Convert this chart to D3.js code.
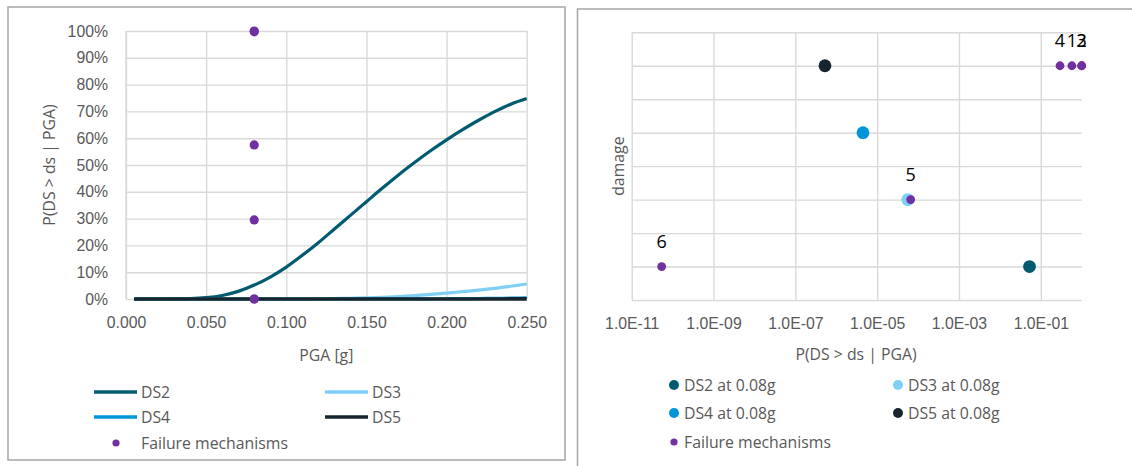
<!DOCTYPE html>
<html>
<head>
<meta charset="utf-8">
<script src="https://cdn.jsdelivr.net/npm/d3@7"></script>
<style>
  html, body { margin: 0; padding: 0; background: #fff; }
  svg { display: block; font-family: "Open Sans", "Noto Sans", sans-serif; }
  .tick text { fill: #595959; font-size: 15.8px; }
</style>
</head>
<body>
<svg id="chart" width="1132" height="466"></svg>
<script>
// Fragility curves: P(DS > ds | PGA) against PGA [g]
const pga = [0.005, 0.01, 0.02, 0.03, 0.04, 0.05, 0.06, 0.07, 0.08, 0.09, 0.10, 0.11, 0.12,
             0.13, 0.14, 0.15, 0.16, 0.17, 0.18, 0.19, 0.20, 0.21, 0.22, 0.23, 0.24, 0.25];
const ds2 = [0, 0, 0, 0.0001, 0.0011, 0.0048, 0.0132, 0.0284, 0.052, 0.082, 0.119, 0.163, 0.210,
             0.261, 0.312, 0.363, 0.414, 0.463, 0.509, 0.553, 0.594, 0.632, 0.667, 0.699, 0.727, 0.748];
const ds3 = [0, 0, 0, 0, 0, 0, 0, 0, 0.000056, 0.0001, 0.0003, 0.0006, 0.001,
             0.0017, 0.0026, 0.004, 0.006, 0.009, 0.0125, 0.017, 0.022, 0.0275, 0.033, 0.0395, 0.0475, 0.056];
const ds4 = [0, 0, 0, 0, 0, 0, 0, 0, 0.0000045, 0.00001, 0.00002, 0.00004, 0.00007,
             0.0001, 0.00015, 0.0002, 0.0003, 0.0004, 0.0006, 0.0008, 0.001, 0.0013, 0.0018, 0.0024, 0.0032, 0.0042];
const ds5 = [0, 0, 0, 0, 0, 0, 0, 0, 0.00000053, 0.000001, 0.000002, 0.000004, 0.000007,
             0.00001, 0.000015, 0.00002, 0.00003, 0.00004, 0.00006, 0.00008, 0.0001, 0.00013, 0.00018, 0.00024, 0.00032, 0.0004];

const dsNames  = ["DS2", "DS3", "DS4", "DS5"];
const dsColors = ["#005b70", "#7fcff5", "#0096d8", "#17262e"];

// Damage state probabilities at PGA = 0.08 g and their damage level
const dsAtNames  = ["DS2 at 0.08g", "DS3 at 0.08g", "DS4 at 0.08g", "DS5 at 0.08g"];
const dsAtProb   = [0.053, 0.000056, 0.0000045, 0.00000053];
const dsAtLevel  = [1, 3, 5, 7];

// Failure mechanisms at PGA = 0.08 g
const fmPga   = 0.08;
const fmIds   = [1, 2, 3, 4, 5, 6];
const fmProb  = [0.575, 1.0, 0.997, 0.295, 0.000066, 0.000000000054];
const fmLevel = [7, 7, 7, 7, 3, 1];
const fmColor = "#7030a0";

// Axis ticks
const leftXTicks  = [0, 0.05, 0.10, 0.15, 0.20, 0.25];
const leftYTicks  = [0, 0.1, 0.2, 0.3, 0.4, 0.5, 0.6, 0.7, 0.8, 0.9, 1.0];
const rightXTicks = [1e-11, 1e-9, 1e-7, 1e-5, 1e-3, 1e-1];
const rightYTicks = [0, 1, 2, 3, 4, 5, 6, 7, 8];

const svg = d3.select("#chart");
const grid = "#d9d9d9", textCol = "#595959", frame = "#a6a6a6";
const fs = 15.8;

// Panel frames
svg.append("rect").attr("x", 8).attr("y", 7).attr("width", 557).attr("height", 453)
  .attr("fill", "none").attr("stroke", frame).attr("stroke-width", 1.5);
svg.append("rect").attr("x", 577.5).attr("y", 9).attr("width", 600).attr("height", 500)
  .attr("fill", "none").attr("stroke", frame).attr("stroke-width", 1.5);

// ---------- Left: fragility curves ----------
const x1 = d3.scaleLinear().domain([0, 0.25]).range([126, 526.7]);
const y1 = d3.scaleLinear().domain([0, 1]).range([299, 31]);

const L = svg.append("g");
L.append("g").attr("transform", `translate(0,${y1(0)})`)
  .call(d3.axisBottom(x1).tickValues(leftXTicks).tickSize(-(y1(0) - y1(1))).tickFormat(d3.format(".3f")).tickPadding(18))
  .call(g => g.select(".domain").remove())
  .call(g => g.selectAll(".tick line").attr("stroke", grid).attr("stroke-width", 1.4));
L.append("g").attr("transform", `translate(${x1(0)},0)`)
  .call(d3.axisLeft(y1).tickValues(leftYTicks).tickSize(-(x1(0.25) - x1(0))).tickFormat(d3.format(".0%")).tickPadding(18))
  .call(g => g.select(".domain").remove())
  .call(g => g.selectAll(".tick line").attr("stroke", grid).attr("stroke-width", 1.4));
// value axis line on the left edge
L.append("line").attr("x1", x1(0)).attr("x2", x1(0)).attr("y1", y1(1)).attr("y2", y1(0))
  .attr("stroke", grid).attr("stroke-width", 1.4);

const curveData = [ds2, ds3, ds4, ds5];
const line = d3.line().x(d => x1(d[0])).y(d => y1(d[1])).curve(d3.curveMonotoneX);
curveData.forEach((vals, i) => {
  L.append("path").datum(pga.map((p, j) => [p, vals[j]]))
    .attr("d", line).attr("fill", "none").attr("stroke", dsColors[i])
    .attr("stroke-width", i === 3 ? 3.6 : 3.2).attr("stroke-linecap", "butt");
});
L.selectAll("circle.fm").data(fmProb).join("circle").attr("class", "fm")
  .attr("cx", x1(fmPga)).attr("cy", d => y1(d)).attr("r", 4.6).attr("fill", fmColor);

L.append("text").attr("transform", `translate(55,${(y1(0) + y1(1)) / 2}) rotate(-90)`)
  .attr("text-anchor", "middle").attr("fill", textCol).attr("font-size", fs).text("P(DS > ds | PGA)");
L.append("text").attr("x", (x1(0) + x1(0.25)) / 2).attr("y", 361)
  .attr("text-anchor", "middle").attr("fill", textCol).attr("font-size", fs).text("PGA [g]");

// Left legend
const legL = [[94, 392], [325, 392], [94, 417], [325, 417]];
dsNames.forEach((n, i) => {
  const [lx, ly] = legL[i];
  L.append("line").attr("x1", lx).attr("x2", lx + 43).attr("y1", ly).attr("y2", ly)
    .attr("stroke", dsColors[i]).attr("stroke-width", 3.4);
  L.append("text").attr("x", lx + 47).attr("y", ly).attr("dy", "0.35em")
    .attr("fill", textCol).attr("font-size", fs).text(n);
});
L.append("circle").attr("cx", 116).attr("cy", 443).attr("r", 3.6).attr("fill", fmColor);
L.append("text").attr("x", 141).attr("y", 443).attr("dy", "0.35em")
  .attr("fill", textCol).attr("font-size", fs).text("Failure mechanisms");

// ---------- Right: probabilities at 0.08 g ----------
const x2 = d3.scaleLog().domain([1e-11, 1]).range([631.7, 1081.7]);
const y2 = d3.scaleLinear().domain([0, 8]).range([300, 32.3]);

const R = svg.append("g");
const expFmt = d => {
  const e = Math.round(Math.log10(d));
  return "1.0E" + (e < 0 ? "-" : "+") + String(Math.abs(e)).padStart(2, "0");
};
R.append("g").attr("transform", `translate(0,${y2(0)})`)
  .call(d3.axisBottom(x2).tickValues(rightXTicks).tickSize(-(y2(0) - y2(8))).tickFormat(expFmt).tickPadding(18))
  .call(g => g.select(".domain").remove())
  .call(g => g.selectAll(".tick line").attr("stroke", grid).attr("stroke-width", 1.4));
R.append("g").attr("transform", `translate(${x2(1e-11)},0)`)
  .call(d3.axisLeft(y2).tickValues(rightYTicks).tickSize(-(x2(1) - x2(1e-11))).tickFormat(""))
  .call(g => g.select(".domain").remove())
  .call(g => g.selectAll(".tick line").attr("stroke", grid).attr("stroke-width", 1.4));

dsAtProb.forEach((p, i) => {
  R.append("circle").attr("cx", x2(p)).attr("cy", y2(dsAtLevel[i])).attr("r", 6.4).attr("fill", dsColors[i]);
});
fmProb.forEach((p, i) => {
  R.append("circle").attr("cx", x2(p)).attr("cy", y2(fmLevel[i])).attr("r", 4.4).attr("fill", fmColor);
});
fmProb.forEach((p, i) => {
  R.append("text").attr("x", x2(p)).attr("y", y2(fmLevel[i]) - 25).attr("dy", "0.35em")
    .attr("text-anchor", "middle").attr("fill", "#000").attr("font-size", 18).text(fmIds[i]);
});

R.append("text").attr("transform", `translate(624,${(y2(0) + y2(8)) / 2}) rotate(-90)`)
  .attr("text-anchor", "middle").attr("fill", textCol).attr("font-size", fs).text("damage");
R.append("text").attr("x", 856).attr("y", 360)
  .attr("text-anchor", "middle").attr("fill", textCol).attr("font-size", fs).text("P(DS > ds | PGA)");

// Right legend
const legR = [[674, 385], [898, 385], [674, 413], [898, 413]];
dsAtNames.forEach((n, i) => {
  const [lx, ly] = legR[i];
  R.append("circle").attr("cx", lx).attr("cy", ly).attr("r", 5).attr("fill", dsColors[i]);
  R.append("text").attr("x", lx + 10).attr("y", ly).attr("dy", "0.35em")
    .attr("fill", textCol).attr("font-size", fs).text(n);
});
R.append("circle").attr("cx", 674).attr("cy", 442).attr("r", 3.6).attr("fill", fmColor);
R.append("text").attr("x", 684).attr("y", 442).attr("dy", "0.35em")
  .attr("fill", textCol).attr("font-size", fs).text("Failure mechanisms");
</script>
</body>
</html>
